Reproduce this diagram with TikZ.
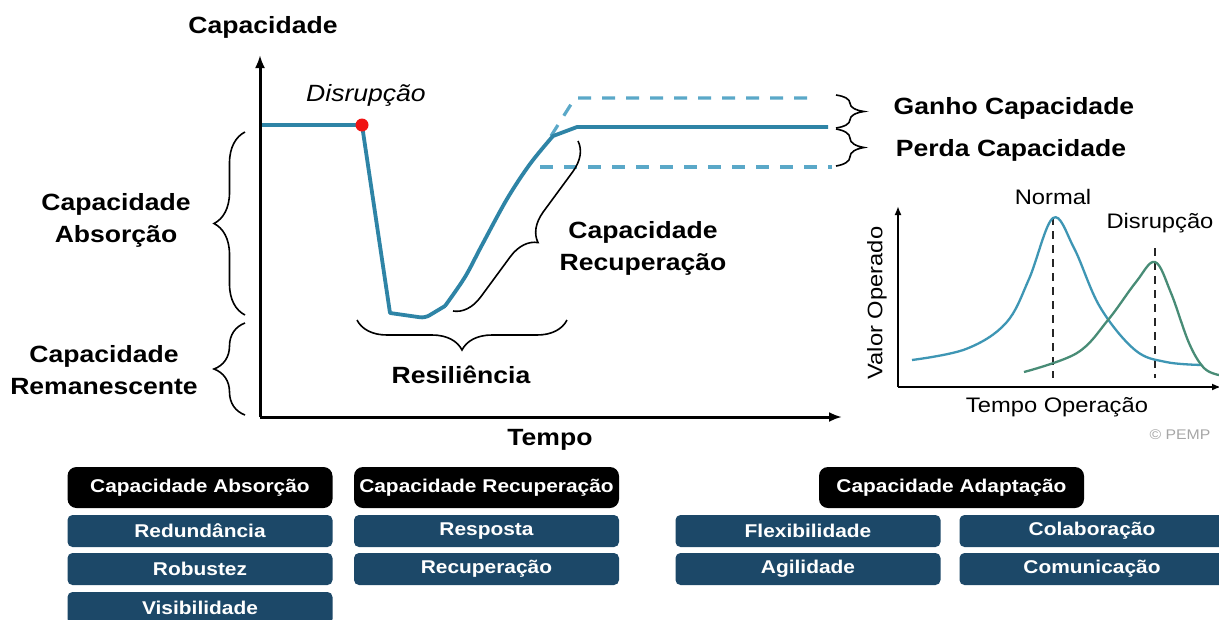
\documentclass[tikz,border=0pt]{standalone}
\usepackage{fontspec}
\setmainfont{Liberation Sans}[FakeStretch=1.13]
\usetikzlibrary{decorations.pathreplacing,arrows.meta}
\definecolor{curveblue}{RGB}{46,132,166}
\definecolor{dashblue}{RGB}{90,168,200}
\definecolor{insetblue}{RGB}{62,150,180}
\definecolor{insetgreen}{RGB}{72,140,118}
\definecolor{navy}{RGB}{28,72,104}
\definecolor{dotred}{RGB}{240,20,20}
\begin{document}
\begin{tikzpicture}[x=1pt,y=-1pt,
  bigbold/.style={font=\fontsize{23.5}{32}\selectfont\bfseries, align=center, inner sep=0pt},
  insettext/.style={font=\fontsize{21}{24}\selectfont, inner sep=0pt},
  mainaxis/.style={line width=3pt, -{Latex[length=13pt,width=10pt]}},
  insetaxis/.style={line width=1.8pt, -{Latex[length=9pt,width=7pt]}},
  curve/.style={curveblue, line width=3.8pt, line join=round},
  dashcurve/.style={dashblue, line width=3.2pt, dash pattern=on 13pt off 11pt},
  bracebig/.style={draw, line width=1.6pt, decorate, decoration={brace, amplitude=#1}},
  headbox/.style={fill=black, rounded corners=9pt, text=white, minimum width=265pt, minimum height=41pt, font=\fontsize{18.5}{20}\selectfont\bfseries, inner sep=0pt},
  itembox/.style={fill=navy, rounded corners=5pt, text=white, minimum width=265pt, minimum height=32pt, font=\fontsize{18.5}{20}\selectfont\bfseries, inner sep=0pt}
]
\useasboundingbox (0,0) rectangle (1219,619);
\fill[white] (0,0) rectangle (1219,619);

% ---------- main chart axes ----------
\coordinate (O) at (260,417);
\coordinate (ytop) at (260,55);
\coordinate (xend) at (842,417);
\draw[mainaxis] (O) -- (ytop);
\draw[mainaxis] (O) -- (xend);

\node[bigbold] (ttl) at (263,27) {Capacidade};
\node[bigbold] (tempo) at (550,440) {Tempo};

% ---------- dashed gain / loss ----------
\coordinate (g0) at (551,136);
\coordinate (g1) at (575,98);
\coordinate (g2) at (816,98);
\draw[dashcurve] (g0) -- (g1) -- (g2);
\coordinate (l0) at (540,167);
\coordinate (l1) at (832,167);
\draw[dashcurve] (l0) -- (l1);

% ---------- main curve ----------
\coordinate (start) at (262,125);
\coordinate (dot) at (362,125);
\draw[curve] (start) -- (dot) -- (390,313) [rounded corners=5pt] -- (425,318) -- (445,306)
  [sharp corners] plot[smooth, tension=0.55] coordinates {(445,306) (465,277) (482,245) (507,199) (530,164) (553,136)}
  -- (577,127) -- (828,127);
\fill[dotred] (dot) circle (6.5pt);
\node[font=\fontsize{23.5}{26}\selectfont\itshape, inner sep=0pt] (disr) at (366,95) {Disrupção};

% ---------- braces ----------
\coordinate (ab1) at (245,315);
\coordinate (ab2) at (245,132);
\draw[bracebig=31pt] (ab1) -- (ab2);
\coordinate (rm1) at (245,415);
\coordinate (rm2) at (245,323);
\draw[bracebig=31pt] (rm1) -- (rm2);
\coordinate (rs1) at (567,320);
\coordinate (rs2) at (357,320);
\draw[bracebig=30pt] (rs1) -- (rs2);
\coordinate (rc1) at (578,141);
\coordinate (rc2) at (453,311);
\draw[bracebig=28pt] (rc1) -- (rc2);
\coordinate (gn1) at (836,95);
\coordinate (gn2) at (836,128);
\draw[bracebig=28pt] (gn1) -- (gn2);
\coordinate (pd1) at (836,129);
\coordinate (pd2) at (836,166);
\draw[bracebig=28pt] (pd1) -- (pd2);

\node[bigbold] (labs) at (116,220) {Capacidade\\Absorção};
\node[bigbold] (lrem) at (104,370) {Capacidade\\Remanescente};
\node[bigbold] (lres) at (461,375) {Resiliência};
\node[bigbold] (lrec) at (643,248) {Capacidade\\Recuperação};
\node[bigbold] (lgan) at (1014,108) {Ganho Capacidade};
\node[bigbold] (lper) at (1011,150) {Perda Capacidade};

% ---------- inset chart ----------
\coordinate (iO) at (898,387);
\coordinate (iytop) at (898,206);
\coordinate (ixend) at (1221,387);
\draw[insetaxis] (iO) -- (iytop);
\draw[insetaxis] (iO) -- (ixend);
\coordinate (n0) at (1053,217);
\coordinate (n1) at (1053,378);
\coordinate (d0) at (1155,248);
\coordinate (d1) at (1155,378);
\draw[line width=1.6pt, dash pattern=on 8pt off 6pt, black!85] (n0) -- (n1);
\draw[line width=1.6pt, dash pattern=on 8pt off 6pt, black!85] (d0) -- (d1);
\draw[insetblue, line width=2.3pt] plot[smooth, tension=0.6] coordinates
  {(912,360) (966,349) (1006,323) (1029,279) (1053,218) (1074,248) (1100,307) (1135,350) (1166,362) (1202,365)};
\draw[insetgreen, line width=2.3pt] plot[smooth, tension=0.6] coordinates
  {(1024,372) (1077,353) (1108,320) (1136,282) (1155,262) (1171,293) (1189,343) (1204,368) (1219,375)};
\node[insettext] (inorm) at (1053,197) {Normal};
\node[insettext] (idis) at (1160,223) {Disrupção};
\node[insettext] (itmp) at (1057,407) {Tempo Operação};
\node[insettext, rotate=90] (ival) at (877,303) {Valor Operado};
\node[font=\fontsize{14}{16}\selectfont, text=black!35, inner sep=0pt] (pemp) at (1180,435) {© PEMP};

% ---------- bottom boxes ----------
\node[headbox] (habs) at (200,487.5) {Capacidade Absorção};
\node[itembox] (red) at (200,531) {Redundância};
\node[itembox] (rob) at (200,569) {Robustez};
\node[itembox] (vis) at (200,608) {Visibilidade};
\node[headbox] (hrec) at (486.5,487.5) {Capacidade Recuperação};
\node[itembox] (resp) at (486.5,531) {Resposta};
\node[itembox] (recu) at (486.5,569) {Recuperação};
\node[headbox] (hada) at (951.5,487.5) {Capacidade Adaptação};
\node[itembox] (flex) at (808,531) {Flexibilidade};
\node[itembox] (agil) at (808,569) {Agilidade};
\node[itembox] (cola) at (1092,531) {Colaboração};
\node[itembox] (comu) at (1092,569) {Comunicação};
\end{tikzpicture}
\end{document}
